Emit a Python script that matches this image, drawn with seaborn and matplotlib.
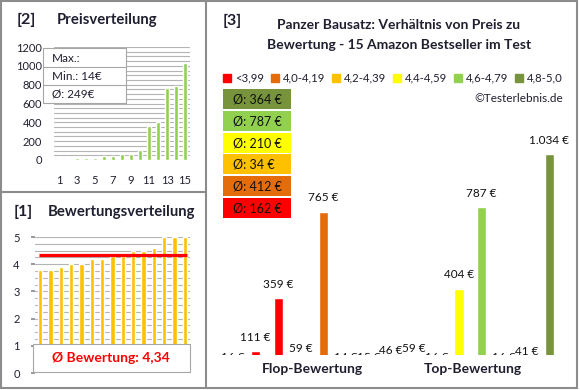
import matplotlib.pyplot as plt
import matplotlib.ticker as mticker
from matplotlib.patches import Rectangle, Patch
import numpy as np
import pandas as pd
import seaborn as sns

sns.set_theme(style="white")
plt.rcParams["font.family"] = ["Lato", "DejaVu Sans"]

# --- data -------------------------------------------------------------
rank_labels = [str(i) for i in range(1, 16)]
prices_sorted = [14, 15, 16, 16, 16, 41, 46, 59, 59, 111, 359, 404, 765, 787, 1034]
ratings_sorted = [3.8, 3.8, 3.9, 4.0, 4.0, 4.2, 4.2, 4.3, 4.3, 4.5, 4.5, 4.6, 5.0, 5.0, 5.0]

classes = ["<3,99", "4,0-4,19", "4,2-4,39", "4,4-4,59", "4,6-4,79", "4,8-5,0"]
class_colors = ["#FF0000", "#E46C0A", "#FFC000", "#FFFF00", "#92D050", "#77933C"]
class_counts = [3, 2, 4, 2, 1, 3]
product_price = [16, 111, 359, 59, 765, 14, 15, 46, 59, 16, 404, 787, 16, 41, 1034]
group_names = ["Flop-Bewertung", "Top-Bewertung"]

title_lines = ["Panzer Bausatz: Verhältnis von Preis zu",
               "Bewertung - 15 Amazon Bestseller im Test"]

# --- helpers ----------------------------------------------------------
W, H = 580, 390
TXT = "#1F1F30"
GRID = "#B4B4B4"
BORDER = "#8C8C8C"


def box(x0, y0, x1, y1):
    return [x0 / W, 1 - y1 / H, (x1 - x0) / W, (y1 - y0) / H]


def euro(v):
    return f"{v:,}".replace(",", ".") + " €"


fig = plt.figure(figsize=(W / 100, H / 100), dpi=100)

# --- [2] Preisverteilung ---------------------------------------------
ax2 = fig.add_axes(box(54.5, 47, 189.5, 160))
sns.barplot(x=rank_labels, y=prices_sorted, color="#92D050", width=0.37,
            saturation=1, ax=ax2, zorder=3)
ax2.set_ylim(0, 1200)
ax2.set_xlim(-0.5, 14.5)
ax2.yaxis.set_major_locator(mticker.MultipleLocator(200))
ax2.yaxis.set_minor_locator(mticker.MultipleLocator(50))
ax2.grid(True, which="both", axis="y", color=GRID, lw=0.8, zorder=0)
ax2.set_xticks(range(0, 15, 2))
ax2.set_xticklabels(rank_labels[::2])
ax2.tick_params(axis="x", length=0, pad=11, labelsize=8, labelcolor=TXT)
ax2.tick_params(axis="y", length=0, pad=9, labelsize=8, labelcolor=TXT)
ax2.set_xlabel("")
ax2.set_ylabel("")
for s in ax2.spines.values():
    s.set_visible(False)

# --- [1] Bewertungsverteilung ----------------------------------------
ax1 = fig.add_axes(box(35, 237, 190, 373))
sns.barplot(x=rank_labels, y=ratings_sorted, color="#FFC000", width=0.4,
            saturation=1, ax=ax1, zorder=3)
rating_mean = np.mean(ratings_sorted)
ax1.plot([-0.1, 14.2], [rating_mean, rating_mean], color="#FF0000", lw=2.3,
         zorder=4, solid_capstyle="butt")
ax1.set_ylim(0, 5)
ax1.set_xlim(-0.5, 14.5)
ax1.yaxis.set_major_locator(mticker.MultipleLocator(1))
ax1.yaxis.set_minor_locator(mticker.MultipleLocator(0.25))
ax1.grid(True, which="both", axis="y", color=GRID, lw=0.8, zorder=0)
ax1.set_xticks([])
ax1.tick_params(axis="y", which="major", length=3, color=BORDER, pad=8,
                labelsize=8, labelcolor=TXT, left=True)
ax1.tick_params(axis="y", which="minor", length=0)
ax1.set_xlabel("")
ax1.set_ylabel("")
for s in ax1.spines.values():
    s.set_visible(False)

# --- [3] Preis zu Bewertung ------------------------------------------
product_class = np.repeat(classes, class_counts)
products = [f"P{i}" for i in range(1, 16)]
df = pd.DataFrame({"produkt": products, "klasse": product_class,
                   "preis": product_price})
ax3 = fig.add_axes(box(210.4, 119, 572, 355))
sns.barplot(data=df, x="produkt", y="preis", hue="klasse", hue_order=classes,
            palette=dict(zip(classes, class_colors)), dodge=False, width=0.4,
            saturation=1, legend=False, ax=ax3)
ax3.set_ylim(92, 1200)
ax3.set_xlim(-1, 15)
for i, v in enumerate(product_price):
    ax3.annotate(euro(v), (i, v), xytext=(0, 10), textcoords="offset points",
                 ha="center", va="center", fontsize=8.5, color="#111111",
                 annotation_clip=False, clip_on=True)
ax3.set_yticks([])
ax3.set_xticks([3.5, 10.6])
ax3.set_xticklabels(group_names, fontweight="bold", fontsize=10, color=TXT)
ax3.tick_params(axis="x", length=0, pad=6)
ax3.set_xlabel("")
ax3.set_ylabel("")
for s in ax3.spines.values():
    s.set_visible(False)

# --- overlay: frames, titles, boxes ----------------------------------
ov = fig.add_axes([0, 0, 1, 1])
ov.set_xlim(0, W)
ov.set_ylim(H, 0)
ov.axis("off")
ov.patch.set_alpha(0)

ov.add_patch(Rectangle((1, 1), 576, 387, fill=False, ec=BORDER, lw=1.5,
                       clip_on=False))
ov.plot([205.5, 205.5], [1, 388], color=BORDER, lw=1.5)
ov.plot([1, 205.5], [192, 192], color=BORDER, lw=1.5)

ov.text(17, 20, "[2]", fontsize=11.5, fontweight="bold", va="center", color=TXT)
ov.text(57, 20, "Preisverteilung", fontsize=10.7, fontweight="bold",
        va="center", color=TXT)
ov.text(14, 212, "[1]", fontsize=11.5, fontweight="bold", va="center", color=TXT)
ov.text(48, 212, "Bewertungsverteilung", fontsize=10.7, fontweight="bold",
        va="center", color=TXT)
ov.text(223, 21, "[3]", fontsize=11.5, fontweight="bold", va="center", color=TXT)
for k, line in enumerate(title_lines):
    ov.text(399, 25 + 20 * k, line, fontsize=10, fontweight="bold",
            ha="center", va="center", color=TXT)

# price info box
ov.add_patch(Rectangle((43, 48), 83, 55, fc="white", ec="#A6A6A6", lw=0.8))
ov.plot([43, 126], [66.5, 66.5], color="#A6A6A6", lw=0.8)
ov.plot([43, 126], [84.5, 84.5], color="#A6A6A6", lw=0.8)
info = ["Max.:", f"Min.: {min(prices_sorted)}€",
        f"Ø: {round(np.mean(prices_sorted))}€"]
for k, t in enumerate(info):
    ov.text(52, 58 + 18 * k, t, fontsize=8.5, va="center", color=TXT)

# rating mean box
ov.add_patch(Rectangle((33, 344), 157, 28, fc="white", ec="#A6A6A6", lw=0.8))
ov.text(111, 358, "Ø Bewertung: " + f"{rating_mean:.2f}".replace(".", ","),
        fontsize=10, fontweight="bold", color="#FF0000",
        ha="center", va="center")

# legend
handles = [Patch(color=c, label=l) for l, c in zip(classes, class_colors)]
ov.legend(handles=handles, loc="center", bbox_to_anchor=(393 / W, 1 - 78 / H),
          ncol=6, frameon=False, fontsize=8.2, handlelength=0.7,
          handleheight=0.7, handletextpad=0.35, columnspacing=0.6,
          labelcolor=TXT)
ov.text(563, 98, "©Testerlebnis.de", fontsize=8.5, ha="right", va="center",
        color=TXT)

# per-class average boxes (top: best class)
class_means = df.groupby("klasse", sort=False)["preis"].mean()
for r, (cl, col) in enumerate(zip(classes[::-1], class_colors[::-1])):
    y0 = 89 + r * 21.8
    ov.add_patch(Rectangle((223, y0), 68, 20, fc=col, ec="none"))
    ov.text(233, y0 + 10.5, f"Ø: {round(class_means[cl])} €", fontsize=9,
            va="center", color="#111111")

fig.savefig("out.png", dpi=100)
